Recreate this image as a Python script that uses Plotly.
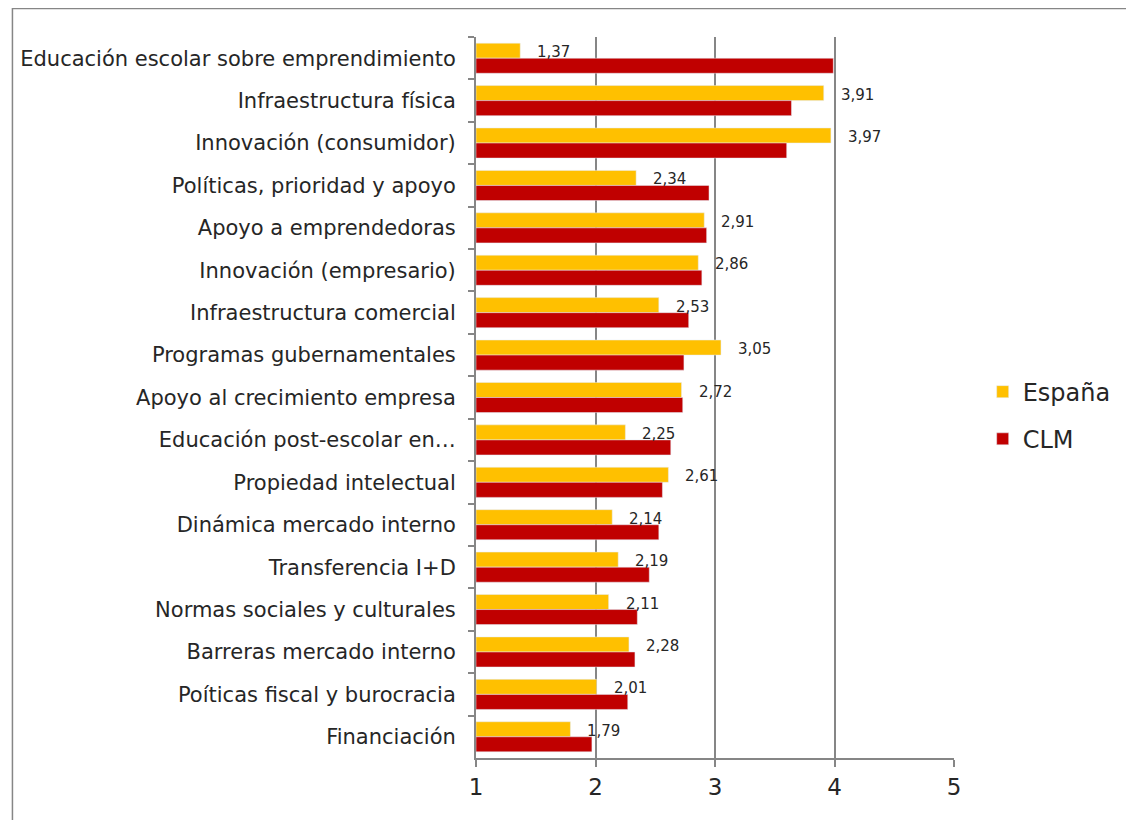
import plotly.graph_objects as go

categories = [
    "Educación escolar sobre emprendimiento",
    "Infraestructura física",
    "Innovación (consumidor)",
    "Políticas, prioridad y apoyo",
    "Apoyo a emprendedoras",
    "Innovación (empresario)",
    "Infraestructura comercial",
    "Programas gubernamentales",
    "Apoyo al crecimiento empresa",
    "Educación post-escolar en…",
    "Propiedad intelectual",
    "Dinámica mercado interno",
    "Transferencia I+D",
    "Normas sociales y culturales",
    "Barreras mercado interno",
    "Poíticas fiscal y burocracia",
    "Financiación",
]
espana = [1.37, 3.91, 3.97, 2.34, 2.91, 2.86, 2.53, 3.05, 2.72, 2.25, 2.61, 2.14, 2.19, 2.11, 2.28, 2.01, 1.79]
clm = [3.99, 3.64, 3.60, 2.95, 2.93, 2.89, 2.78, 2.74, 2.73, 2.63, 2.56, 2.53, 2.45, 2.35, 2.33, 2.27, 1.97]
x_ticks = [1, 2, 3, 4, 5]

FONT = "DejaVu Sans"
GRID = "#868686"

# page body has an 8px margin, so the figure is 8px smaller than the window
W, H = 1126, 812
L, R, T, B = 466, 180, 29, 62
pw, ph = W - L - R, H - T - B

fig = go.Figure()
fig.add_trace(go.Bar(
    y=categories, x=[v - 1 for v in espana], base=1, orientation="h",
    name="España", legendgroup="esp", marker=dict(color="#FFC000"), hoverinfo="skip",
))
fig.add_trace(go.Bar(
    y=categories, x=[v - 1 for v in clm], base=1, orientation="h",
    name="CLM", legendgroup="clm", marker=dict(color="#C00000"), hoverinfo="skip",
))

# data labels for España, Excel-style with decimal comma
for cat, v in zip(categories, espana):
    fig.add_annotation(
        x=v, y=cat, text=f"{v:.2f}".replace(".", ","),
        showarrow=False, xanchor="left", xshift=15, yshift=6,
        font=dict(family=FONT, size=15, color="#262626"),
    )

# outer chart border
fig.add_shape(
    type="rect", xref="paper", yref="paper",
    x0=(0.5 - L) / pw, x1=(W + 20 - L) / pw,
    y0=-(B + 20) / ph, y1=(ph + T - 0.5) / ph,
    line=dict(color=GRID, width=1.5), layer="below",
)

fig.update_layout(
    width=W, height=H,
    margin=dict(l=L, r=R, t=T, b=B),
    plot_bgcolor="white", paper_bgcolor="white",
    barmode="group", bargap=0.29, bargroupgap=0,
    font=dict(family=FONT, color="#262626"),
    legend=dict(
        x=1.06, y=0.475, xanchor="left", yanchor="middle",
        font=dict(family=FONT, size=24, color="#262626"),
        traceorder="grouped", tracegroupgap=13, itemwidth=30,
    ),
    xaxis=dict(
        range=[1, 5], tickvals=x_ticks, ticks="outside", ticklen=7,
        tickcolor=GRID, tickwidth=2,
        showgrid=True, gridcolor=GRID, gridwidth=1.5,
        showline=True, linecolor=GRID, linewidth=2,
        zeroline=False, tickfont=dict(family=FONT, size=23, color="#262626"),
    ),
    yaxis=dict(
        autorange="reversed", tickson="boundaries", ticks="outside",
        ticklen=6, tickcolor=GRID, tickwidth=2, ticklabelstandoff=14,
        showgrid=False, showline=True, linecolor=GRID, linewidth=2,
        tickfont=dict(family=FONT, size=21, color="#262626"),
    ),
)

fig.write_html("out.html")
